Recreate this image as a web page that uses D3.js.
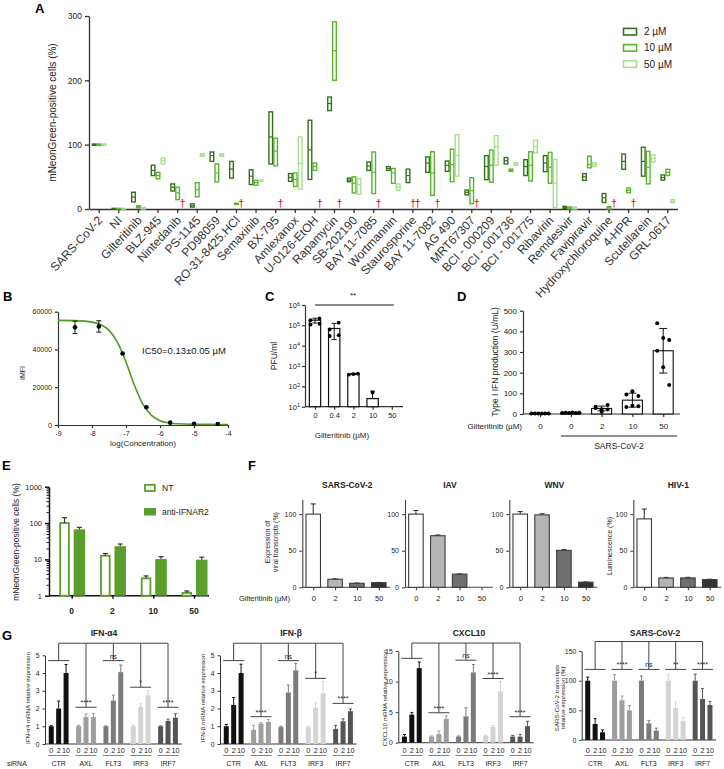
<!DOCTYPE html>
<html><head><meta charset="utf-8">
<script src="https://cdn.jsdelivr.net/npm/d3@7"></script>
<style>
body{margin:0;background:#fff;}
svg{display:block;}
</style></head><body>
<svg id="c" width="724" height="769"></svg>
<script>
// ================= DATA =================
// Panel A
const categoriesA = ["SARS-CoV-2","NI","Gilteritinib","BLZ-945","Nintedanib","PS-1145","PD98059","RO-31-8425.HCl","Semaxinib","BX-795","Amlexanox","U-0126-EtOH","Rapamycin","SB-202190","BAY 11-7085","Wortmannin","Staurosporine","BAY 11-7082","AG 490","MRT67307","BCI - 000209","BCI - 001736","BCI - 001775","Ribavirin","Remdesivir","Favipiravir","Hydroxychloroquine","4-HPR","Scutellarein","GRL-0617"];
const concA = ["2 µM","10 µM","50 µM"];
const T = "tox"; // cytotoxic (dagger)
// [min, mean, max]
const a2uM = [[99,100,101],[0,0.5,1],[11,18.6,26],[52,60,68],[28,34,39],[3,5,8],[74,83,88.6],[48,62,74],[38,51,61],[70,112,151],[43,49,55],[46,92,138],[153,164,174],[42.5,45,48],[60,67,73],[60,63,66],[41,52,62],[57,71.5,81],[58.5,68,74.6],[22,26,29.5],[45.6,66,83],[70,75,80],[52,66,76.7],[58,71.5,83],[1,2,4],[44.5,50,55],[10,17.5,24],[61.7,74,85.5],[51,74,96],[45,49,53]];
const a10uM = [[99,100,101],[0,0.5,1],[2,4,5],[47,52,57],[14.5,25,34],[19,30,41],[42,56,70],[7,8,9],[37,41,44.5],[67,90,110],[35,46,56],[60,66,71.5],[200,246,291],[25,40,50],[24,57,88.6],[40,56,63],T,[21,56,89],[42.5,69,93],[8.3,28.5,48.7],[41.5,68,91.7],[58.5,60,62],[43.5,68,89],[40,65,88],[0,1.5,3],[64,69,82],[0,2,3.6],[25.4,29,32.6],[39,65,89.6],[52,57,61.7]];
const a50uM = [[99,100,101],[0,0.5,1],[0,1,2.5],[70,75,79],T,[82,84,86],[82,84,86],T,[43,44,45],T,[31,71,112],T,T,[23,38,47],T,[29,34,39],T,T,[51,83,115.5],T,[68,97,114],[68,70,72],[87,97,107],[2,40,77],[0,1.5,3],[66,69,72],T,T,[73,79,84],[10,12,14.5]];
const yTicksA = [0,100,200,300];

// Panel B
const bLogConc = [-8.5,-7.8,-7.1,-6.4,-5.7,-5.0,-4.3];
const bMFI = [51700,52200,37900,9400,1250,700,550];
const bSD = [3300,3000,0,0,0,0,0];
const bCurveLog = [-9,-8.5,-8,-7.75,-7.5,-7.25,-7,-6.75,-6.5,-6.25,-6,-5.75,-5.5,-5,-4.5,-4];
const bCurveMFI = [55400,55250,54500,53200,50100,43800,33400,20900,10900,5100,2300,1100,630,350,310,300];
const bXTicks = [-9,-8,-7,-6,-5,-4];
const bYTicks = [0,20000,40000,60000];

// Panel C
const cDoses = ["0","0.4","2","10","50"];
const cMean = [1.8e5,7e4,400,25,null];
const cErrHi = [2.25e5,1.25e5,430,58,null];
const cErrLo = [1.3e5,2e4,380,null,null];
const cDots = [[1.8e5,2.2e5,1.1e5,1.2e5],[6.3e4,1.35e5,3.0e4,3.3e4],[380,400,420],[50],[]];
const cYTicks = [1e1,1e2,1e3,1e4,1e5,1e6];

// Panel D
const dLabels = ["0","0","2","10","50"];
const dReplicates = [[3,3,3,3,3,3],[5,6,5,7,5,6],[35,23,43,28,10,22],[94,110,87,34,40,37],[439,368,358,306,226,140]];
const dYTicks = [0,100,200,300,400,500];

// Panel E
const eDoses = ["0","2","10","50"];
const eNT = [100,12.6,3.0,1.2];
const eNTErr = [140,14.5,3.5,1.35];
const eIFNAR2 = [67,23,10.2,9.8];
const eIFNAR2Err = [76,26.5,11.9,11.5];

// Panel F
const fDoses = ["0","2","10","50"];
const fTitles = ["SARS-CoV-2","IAV","WNV","HIV-1"];
const fSars = [100,11,5.5,6.3], fSarsErr = [114,11.6,5.8,6.6];
const fIav = [100,70.5,18,0], fIavErr = [105,71.5,18.3,0];
const fWnv = [100,99,50.5,7], fWnvErr = [103.5,100.5,51.5,7.3];
const fHiv = [93.5,12.7,12.8,10.5], fHivErr = [107,13.5,13.6,11];
const fYTicks = [0,50,100];

// Panel G
const gGroups = ["CTR","AXL","FLT3","IRF3","IRF7"];
const gDoses = ["0","2","10"];
const gTitles = ["IFN-α4","IFN-β","CXCL10","SARS-CoV-2"];
const gIfna4 = [[1.0,2.0,4.0],[1.0,1.52,1.52],[1.0,2.45,4.05],[1.0,2.1,2.75],[1.0,1.3,1.48]];
const gIfna4Err = [[1.03,2.42,4.48],[1.05,1.7,1.72],[1.02,2.75,4.45],[1.07,2.27,3.02],[1.02,1.4,1.7]];
const gIfnb = [[1.0,2.2,4.0],[0.8,1.15,1.25],[0.95,2.9,4.15],[0.95,2.05,2.85],[0.85,1.28,1.85]];
const gIfnbErr = [[1.1,2.62,4.5],[1.05,1.2,1.38],[1.0,3.32,4.55],[1.0,2.32,3.52],[1.05,1.42,1.97]];
const gCxcl10 = [[1.0,4.6,12.2],[1.0,1.4,3.9],[1.0,4.3,11.5],[1.1,2.6,8.4],[1.0,1.0,2.7]];
const gCxcl10Err = [[1.35,4.95,13.2],[1.1,1.9,4.4],[1.1,5.7,12.8],[1.2,2.8,10.0],[1.2,1.35,3.5]];
const gSars = [[100,27,13],[100,67,50],[100,28,16],[100,54,32],[100,69,59]];
const gSarsErr = [[106,36,17],[110,74,58],[108,33,20],[110,64,38],[111,87,65]];
const gSigLabels = [["","****","ns","*","****"],["","****","ns","*","****"],["","****","ns","****","****"],["","****","ns","**","****"]];
const gSigLevels = [[4.7,2.07,4.7,3.2,2.07],[4.7,1.54,4.7,3.7,2.29],[13.8,4.9,13.5,10.5,4.25],[119,119,119,119,119]];
const gBracketLevels = [5.68,5.68,16.3,166];
const gYMax = [5,5,15,150];
const gYTicks = [[0,1,2,3,4,5],[0,1,2,3,4,5],[0,5,10,15],[0,50,100,150]];
const gYTitles = [["IFN-α4 mRNA relative expression"],["IFN-β mRNA relative expression"],["CXCL10 mRNA relative expression"],["SARS-CoV-2 transcripts","relative expression (%)"]];

// ================= DRAWING =================
const FONT = '"Liberation Sans", Arial, Helvetica, sans-serif';
const svg = d3.select('#c');
svg.append('rect').attr('width',724).attr('height',769).attr('fill','#fff');
const plain = d => String(d);

function axis(g, ax, fs, col='#333', sw=1.2){
  g.call(ax);
  g.attr('font-size',fs).attr('font-family',FONT);
  g.select('.domain').attr('stroke',col).attr('stroke-width',sw);
  g.selectAll('.tick line').attr('stroke',col).attr('stroke-width',sw);
  g.selectAll('.tick text').attr('fill','#222');
  return g;
}
function txt(x,y,s,o={}){
  const t = svg.append('text').attr('x',x).attr('y',y).text(s)
    .attr('font-size',o.fs||8).attr('font-family',FONT).attr('fill',o.fill||'#222');
  if(o.anchor) t.attr('text-anchor',o.anchor);
  if(o.bold) t.attr('font-weight','bold');
  if(o.rot!==undefined) t.attr('transform',`rotate(${o.rot},${x},${y})`);
  return t;
}
function line(x1,y1,x2,y2,col='#333',sw=1){
  svg.append('line').attr('x1',x1).attr('y1',y1).attr('x2',x2).attr('y2',y2).attr('stroke',col).attr('stroke-width',sw);
}
function errUp(x,y0,y1,cap,col,sw=1.1){
  line(x,y0,x,y1,col,sw); line(x-cap/2,y1,x+cap/2,y1,col,sw);
}

// panel letters
[["A",35,13],["B",3,301],["C",265,301],["D",457,301],["E",2,470],["F",248,470],["G",2,640]]
  .forEach(([l,x,y])=>txt(x,y,l,{fs:13,bold:true,fill:'#000'}));

// ---------- Panel A ----------
(function(){
  const colors = ['#34701f','#58b52c','#a6e08e'];
  const x = d3.scaleBand().domain(categoriesA).range([89.4,677.6]);
  const y = d3.scaleLinear().domain([0,300]).range([209,16]);
  const sub = d3.scaleBand().domain(concA).range([-7.4,7.4]);
  const gy = svg.append('g').attr('transform','translate(89,0)');
  axis(gy, d3.axisLeft(y).tickValues(yTicksA).tickSize(4).tickSizeOuter(0).tickFormat(plain), 8.5, '#333', 1.3);
  const gx = svg.append('g').attr('transform','translate(0,209)');
  axis(gx, d3.axisBottom(x).tickSize(4).tickSizeOuter(0), 12, '#333', 1.3);
  gx.selectAll('.tick text').attr('text-anchor','end').attr('x',0).attr('y',0).attr('dy','0.35em')
    .attr('font-size',12)
    .attr('transform','translate(1,9) rotate(-47)').attr('fill','#333');
  const series = [a2uM,a10uM,a50uM];
  series.forEach((arr,j)=>{
    arr.forEach((v,i)=>{
      const cx = x(categoriesA[i]) + x.bandwidth()/2 + sub(concA[j]) + sub.bandwidth()/2;
      if(v===T){
        txt(cx,206.5,'†',{fs:10,bold:true,anchor:'middle',fill:'#e3211c'});
        return;
      }
      if(!v) return;
      const w = sub.bandwidth()-1.3;
      const yt = y(v[2]), yb = y(v[0]);
      svg.append('rect').attr('x',cx-w/2).attr('y',yt).attr('width',w).attr('height',Math.max(0.6,yb-yt))
        .attr('fill','#fff').attr('stroke',colors[j]).attr('stroke-width',1.4);
      line(cx-w/2,y(v[1]),cx+w/2,y(v[1]),colors[j],1.2);
    });
  });
  txt(56,112.5,'mNeonGreen-positive cells (%)',{fs:10,anchor:'middle',rot:-90});
  concA.forEach((c,j)=>{
    const yy = 31.7 + j*16.2;
    svg.append('rect').attr('x',623.5).attr('y',yy-3.3).attr('width',13).attr('height',6.6)
      .attr('fill','#fff').attr('stroke',colors[j]).attr('stroke-width',1.6);
    txt(644,yy+3.5,c,{fs:10});
  });
})();

// ---------- Panel B ----------
(function(){
  const x = d3.scaleLinear().domain([-9,-4]).range([58,228]);
  const y = d3.scaleLinear().domain([0,60000]).range([425,311.7]);
  const gy = svg.append('g').attr('transform','translate(58,0)');
  axis(gy, d3.axisLeft(y).tickValues(bYTicks).tickSize(3).tickSizeOuter(0).tickFormat(plain), 7);
  const gx = svg.append('g').attr('transform','translate(0,425)');
  axis(gx, d3.axisBottom(x).tickValues(bXTicks).tickSize(3).tickSizeOuter(0).tickFormat(plain), 7);
  const pts = bCurveLog.map((l,i)=>[x(l),y(bCurveMFI[i])]);
  svg.append('path').attr('d',d3.line().curve(d3.curveMonotoneX)(pts)).attr('fill','none')
    .attr('stroke','#4e9a1e').attr('stroke-width',1.6);
  bLogConc.forEach((l,i)=>{
    const cx=x(l);
    if(bSD[i]>0){
      line(cx,y(bMFI[i]-bSD[i]),cx,y(bMFI[i]+bSD[i]),'#111',1);
      line(cx-2.5,y(bMFI[i]-bSD[i]),cx+2.5,y(bMFI[i]-bSD[i]),'#111',1);
      line(cx-2.5,y(bMFI[i]+bSD[i]),cx+2.5,y(bMFI[i]+bSD[i]),'#111',1);
    }
    svg.append('circle').attr('cx',cx).attr('cy',y(bMFI[i])).attr('r',2.3).attr('fill','#000');
  });
  txt(142,354,'IC50=0.13±0.05 µM',{fs:9.5});
  txt(25,373,'IMFI',{fs:7,anchor:'middle',rot:-90});
  txt(143,446,'log(Concentration)',{fs:8,anchor:'middle'});
})();

// ---------- Panel C ----------
(function(){
  const x = d3.scalePoint().domain(cDoses).range([305.4,401.4]).padding(0.5);
  const y = d3.scaleLog().domain([10,1e6]).range([406.7,305]);
  const gy = svg.append('g').attr('transform','translate(305,0)');
  axis(gy, d3.axisLeft(y).tickValues(cYTicks).tickSize(3).tickSizeOuter(0).tickFormat(''), 8);
  gy.selectAll('.tick').each(function(d){
    const t = d3.select(this).append('text').attr('x',-5).attr('dy','0.35em').attr('text-anchor','end')
      .attr('fill','#222').attr('font-size',7.5).text('10');
    t.append('tspan').attr('dy','-0.45em').attr('font-size',5.5).text(Math.round(Math.log10(d)));
  });
  const gx = svg.append('g').attr('transform','translate(0,406.7)');
  axis(gx, d3.axisBottom(x).tickSize(3).tickSizeOuter(0), 7.5);
  gx.select('.domain').attr('d','M0,0H98').attr('transform','translate(305,0)');
  const bw = 11.3;
  cDoses.forEach((d,i)=>{
    const cx = x(d);
    if(cMean[i]){
      svg.append('rect').attr('x',cx-bw/2).attr('y',y(cMean[i])).attr('width',bw).attr('height',406.7-y(cMean[i]))
        .attr('fill','#fff').attr('stroke','#111').attr('stroke-width',1.2);
      if(cErrHi[i]) errUp(cx,y(cMean[i]),y(cErrHi[i]),5,'#111',1);
      if(cErrLo[i]) errUp(cx,y(cMean[i]),y(cErrLo[i]),5,'#111',1);
    }
    const n = cDots[i].length;
    cDots[i].forEach((v,k)=>{
      const off = n===4 ? (k%2? 4.5:-4.5) : (k-(n-1)/2)*4.5;
      svg.append('circle').attr('cx',cx+off).attr('cy',y(v)).attr('r',1.9).attr('fill','#000');
    });
  });
  line(x('0'),305,x('50')+2,305,'#111',1);
  txt(353,298,'**',{fs:8,anchor:'middle'});
  txt(277,356,'PFU/ml',{fs:8.5,anchor:'middle',rot:-90});
  txt(342,438,'Gilteritinib (µM)',{fs:8,anchor:'middle'});
})();

// ---------- Panel D ----------
(function(){
  const keys = dLabels.map((d,i)=>i);
  const x = d3.scalePoint().domain(keys).range([524.6,678.6]).padding(0.5);
  const y = d3.scaleLinear().domain([0,500]).range([414,310.7]);
  const gy = svg.append('g').attr('transform','translate(523,0)');
  axis(gy, d3.axisLeft(y).tickValues(dYTicks).tickSize(3).tickSizeOuter(0).tickFormat(plain), 8);
  const gx = svg.append('g').attr('transform','translate(0,414)');
  axis(gx, d3.axisBottom(x).tickSize(3).tickSizeOuter(0).tickFormat(i=>dLabels[i]), 8);
  gx.select('.domain').attr('d','M523,0H680');
  gx.selectAll('.tick text').attr('y',9);
  const bw = 20;
  keys.forEach(i=>{
    const cx = x(i), vals = dReplicates[i];
    const m = d3.mean(vals), sd = d3.deviation(vals)||0;
    svg.append('rect').attr('x',cx-bw/2).attr('y',y(m)).attr('width',bw).attr('height',414-y(m))
      .attr('fill','#fff').attr('stroke','#111').attr('stroke-width',1.1);
    if(sd>0){
      line(cx,y(m-sd),cx,y(m+sd),'#111',1);
      line(cx-4,y(m-sd),cx+4,y(m-sd),'#111',1);
      line(cx-4,y(m+sd),cx+4,y(m+sd),'#111',1);
    }
    const flat = d3.max(vals)<20;
    vals.forEach((v,k)=>{
      const off = flat ? (k-2.5)*3.4 : ((k%3)-1)*6;
      svg.append('circle').attr('cx',cx+off).attr('cy',y(v)).attr('r',2).attr('fill','#000');
    });
  });
  txt(522,428.5,'Gilteritinib (µM)',{fs:8,anchor:'end'});
  line(x(1)-10,436,x(4)+14,436,'#222',1);
  txt(619,449,'SARS-CoV-2',{fs:8.5,anchor:'middle'});
  txt(498,362,'Type I IFN production (U/mL)',{fs:8.5,anchor:'middle',rot:-90});
})();

// ---------- Panel E ----------
(function(){
  const green = '#5b9e2b';
  const x = d3.scalePoint().domain(eDoses).range([51.3,214.4]).padding(0.5);
  const y = d3.scaleLog().domain([1,1000]).range([595.7,486.7]);
  const tv = [];
  [1,10,100].forEach(dec=>{ for(let k=1;k<10;k++) tv.push(k*dec); });
  tv.push(1000);
  const major = [1,10,100,1000];
  const gy = svg.append('g').attr('transform','translate(49,0)');
  axis(gy, d3.axisLeft(y).tickValues(tv).tickSize(4).tickSizeOuter(0)
    .tickFormat(d=>major.includes(d)? String(d):''), 7.5, '#111', 1.5);
  gy.selectAll('.tick').filter(d=>!major.includes(d)).select('line').attr('x2',-2.5).attr('stroke-width',1);
  const gx = svg.append('g').attr('transform','translate(0,595.7)');
  axis(gx, d3.axisBottom(x).tickSize(3).tickSizeOuter(0).tickFormat(''), 8, '#111', 1.5);
  gx.select('.domain').attr('d','M49,0H209');
  const bw = 10.5;
  eDoses.forEach((d,i)=>{
    const c = x(d);
    const nx = c-12.4+0.9;
    svg.append('rect').attr('x',nx).attr('y',y(eNT[i])).attr('width',bw-1.8).attr('height',595.7-y(eNT[i]))
      .attr('fill','#fff').attr('stroke',green).attr('stroke-width',1.8);
    errUp(nx+(bw-1.8)/2,y(eNT[i]),y(eNTErr[i]),5,'#333',1.2);
    const ax = c+2;
    svg.append('rect').attr('x',ax).attr('y',y(eIFNAR2[i])).attr('width',bw+1).attr('height',595.7-y(eIFNAR2[i]))
      .attr('fill',green);
    errUp(ax+(bw+1)/2,y(eIFNAR2[i]),y(eIFNAR2Err[i]),5,'#333',1.2);
    txt(c,614,d,{fs:8.5,bold:true,anchor:'middle'});
  });
  svg.append('rect').attr('x',145).attr('y',484.8).attr('width',9.8).attr('height',6.2)
    .attr('fill','#fff').attr('stroke',green).attr('stroke-width',1.8);
  txt(162,491,'NT',{fs:8.5});
  svg.append('rect').attr('x',144).attr('y',508).attr('width',12).attr('height',7.5).attr('fill',green);
  txt(162,515,'anti-IFNAR2',{fs:8.5});
  txt(19,542,'mNeonGreen-positive cells (%)',{fs:8.5,anchor:'middle',rot:-90});
})();

// ---------- Panel F ----------
(function(){
  const vals = [fSars,fIav,fWnv,fHiv];
  const errs = [fSarsErr,fIavErr,fWnvErr,fHivErr];
  const fColors = ['#ffffff','#b5b5b5','#6f6f6f','#333333'];
  const lefts = [302.3,405,509.3,633.3];
  vals.forEach((arr,p)=>{
    const L = lefts[p];
    const x = d3.scalePoint().domain(fDoses).range([L,L+87.4]).padding(0.5);
    const y = d3.scaleLinear().domain([0,120]).range([587.3,499.5]);
    const gy = svg.append('g').attr('transform',`translate(${L},0)`);
    axis(gy, d3.axisLeft(y).tickValues(fYTicks).tickSize(3).tickSizeOuter(0).tickFormat(plain), 7, '#444', 1.1);
    const gx = svg.append('g').attr('transform','translate(0,587.3)');
    axis(gx, d3.axisBottom(x).tickSize(3).tickSizeOuter(0), 7.5, '#444', 1.1);
    gx.select('.domain').attr('d',`M${L},0H${L+88}`);
    gx.selectAll('.tick text').attr('y',8);
    const bw = 14.5;
    fDoses.forEach((d,i)=>{
      const cx = x(d);
      if(arr[i]>0){
        svg.append('rect').attr('x',cx-bw/2).attr('y',y(arr[i])).attr('width',bw).attr('height',587.3-y(arr[i]))
          .attr('fill',fColors[i]).attr('stroke','#3a3a3a').attr('stroke-width',1.1);
        if(errs[p][i]>arr[i]) errUp(cx,y(arr[i]),y(errs[p][i]),5,'#3a3a3a',1.1);
      }
    });
    txt(L+45,488,fTitles[p],{fs:8.5,bold:true,anchor:'middle'});
  });
  txt(290,600.5,'Gilteritinib (µM)',{fs:7.5,anchor:'end'});
  txt(270,542,'Expression of',{fs:7,anchor:'middle',rot:-90});
  txt(278,542,'viral transcripts (%)',{fs:7,anchor:'middle',rot:-90});
  txt(612,546,'Luminescence (%)',{fs:7,anchor:'middle',rot:-90});
})();

// ---------- Panel G ----------
(function(){
  const datasets = [gIfna4,gIfnb,gCxcl10,gSars];
  const errsets = [gIfna4Err,gIfnbErr,gCxcl10Err,gSarsErr];
  const gColors = ['#111111','#9e9e9e','#7b7b7b','#d3d3d3','#555555'];
  const lefts = [45,220,398.3,581.7], rights = [181.7,356.7,533.6,716];
  const zeros = [744,744,742.7,740], tops = [655.3,655.3,651,651];
  const titleX = [104,291,469,655];
  const ytx = [[30],[205],[387],[559,565]];
  datasets.forEach((arr,p)=>{
    const L = lefts[p], R = rights[p];
    const x = d3.scalePoint().domain(gGroups).range([L,R]).padding(0.5);
    const y = d3.scaleLinear().domain([0,gYMax[p]]).range([zeros[p],tops[p]]);
    const gy = svg.append('g').attr('transform',`translate(${L},0)`);
    axis(gy, d3.axisLeft(y).tickValues(gYTicks[p]).tickSize(2.5).tickSizeOuter(0).tickFormat(plain), 6.8, '#333', 1);
    line(L,zeros[p],R,zeros[p],'#333',1);
    const sub = d3.scalePoint().domain(gDoses).range([-7.4,7.4]);
    const bw = 5;
    gGroups.forEach((g,gi)=>{
      const gc = x(g);
      gDoses.forEach((d,k)=>{
        const cx = gc + sub(d);
        const v = arr[gi][k];
        svg.append('rect').attr('x',cx-bw/2).attr('y',y(v)).attr('width',bw).attr('height',zeros[p]-y(v))
          .attr('fill',gColors[gi]);
        errUp(cx,y(v),y(errsets[p][gi][k]),3,gColors[gi],1);
        txt(cx,752.5,d,{fs:7.2,anchor:'middle'});
      });
      line(gc-10.5,755.5,gc+10.5,755.5,'#777',0.9);
      txt(gc,766,g,{fs:7,anchor:'middle'});
      // significance
      const ly = y(gSigLevels[p][gi]);
      line(gc-10.5,ly,gc+10.5,ly,'#444',1);
      line(gc,y(gBracketLevels[p]),gc,ly,'#444',1);
      if(gSigLabels[p][gi]) txt(gc,ly-2,gSigLabels[p][gi],{fs:7,anchor:'middle'});
    });
    line(x('CTR'),y(gBracketLevels[p]),x('IRF7'),y(gBracketLevels[p]),'#444',1);
    txt(titleX[p],636,gTitles[p],{fs:8.5,bold:true,anchor:'middle'});
    const lines = gYTitles[p];
    lines.forEach((s,li)=>txt(ytx[p][li],698,s,{fs:6.2,anchor:'middle',rot:-90}));
  });
  txt(7,766,'siRNA',{fs:7});
})();
</script></body></html>
